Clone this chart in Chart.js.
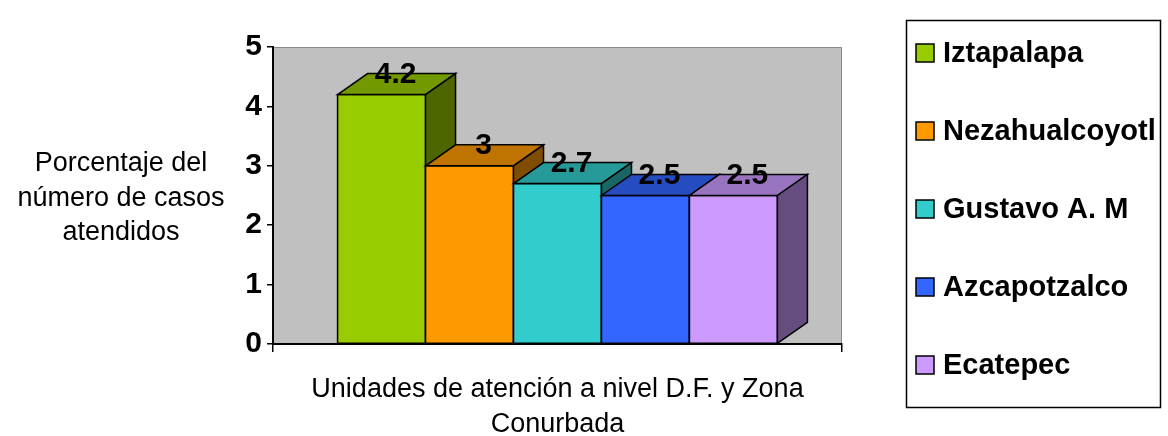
<!DOCTYPE html>
<html lang="es">
<head>
    <meta charset="UTF-8">
    <title>Porcentaje del número de casos atendidos</title>
    <script src="https://cdn.jsdelivr.net/npm/chart.js"></script>
    <style>
        html, body { margin: 0; padding: 0; background: #ffffff; }
        #wrap { width: 1168px; height: 436px; position: relative; }
    </style>
</head>
<body>
    <div id="wrap"><canvas id="chart"></canvas></div>

    <script>
        // data
        const units = ['Iztapalapa', 'Nezahualcoyotl', 'Gustavo A. M', 'Azcapotzalco', 'Ecatepec'];
        const values = [4.2, 3, 2.7, 2.5, 2.5];
        const yTicks = [0, 1, 2, 3, 4, 5];
        const yTitle = ['Porcentaje del', 'número de casos', 'atendidos'];
        const xTitle = ['Unidades de atención a nivel D.F. y Zona', 'Conurbada'];

        const colors = ['#99CC00', '#FF9900', '#33CCCC', '#3366FF', '#CC99FF'];
        const FONT = '"Liberation Sans", Arial, sans-serif';
        const DX = 30, DY = 21; // depth of the 3d bars

        function shade(hex, k) {
            const n = parseInt(hex.slice(1), 16);
            const r = Math.round(((n >> 16) & 255) * k);
            const g = Math.round(((n >> 8) & 255) * k);
            const b = Math.round((n & 255) * k);
            return 'rgb(' + r + ',' + g + ',' + b + ')';
        }

        // gray back wall
        const wallPlugin = {
            id: 'wall',
            beforeDraw(chart) {
                const { ctx, chartArea: a } = chart;
                ctx.save();
                ctx.fillStyle = '#C0C0C0';
                ctx.fillRect(a.left, a.top, a.right - a.left, a.bottom - a.top);
                ctx.strokeStyle = '#8a8a8a';
                ctx.lineWidth = 1;
                ctx.beginPath();
                ctx.moveTo(a.left, a.top + 0.5);
                ctx.lineTo(a.right - 0.5, a.top + 0.5);
                ctx.lineTo(a.right - 0.5, a.bottom);
                ctx.stroke();
                ctx.restore();
            }
        };

        // front, top and side faces, drawn bar by bar so each one covers the previous side
        const boxPlugin = {
            id: 'box3d',
            afterDatasetsDraw(chart) {
                const ctx = chart.ctx;
                ctx.save();
                ctx.lineWidth = 1.5;
                ctx.strokeStyle = '#000000';
                ctx.lineJoin = 'miter';
                const boxes = [];
                chart.data.datasets.forEach((ds, i) => {
                    const bar = chart.getDatasetMeta(i).data[0];
                    const l = bar.x - bar.width / 2, r = bar.x + bar.width / 2;
                    const t = bar.y, b = bar.base;
                    const c = ds.backgroundColor;
                    boxes.push({ x: bar.x, t: t, v: ds.data[0] });

                    ctx.fillStyle = c;
                    ctx.fillRect(l, t, r - l, b - t);
                    ctx.strokeRect(l, t, r - l, b - t);

                    ctx.beginPath();
                    ctx.moveTo(l, t);
                    ctx.lineTo(l + DX, t - DY);
                    ctx.lineTo(r + DX, t - DY);
                    ctx.lineTo(r, t);
                    ctx.closePath();
                    ctx.fillStyle = shade(c, 0.75);
                    ctx.fill();
                    ctx.stroke();

                    ctx.beginPath();
                    ctx.moveTo(r, t);
                    ctx.lineTo(r + DX, t - DY);
                    ctx.lineTo(r + DX, b - DY);
                    ctx.lineTo(r, b);
                    ctx.closePath();
                    ctx.fillStyle = shade(c, 0.5);
                    ctx.fill();
                    ctx.stroke();
                });
                ctx.fillStyle = '#000000';
                ctx.font = 'bold 30px ' + FONT;
                ctx.textAlign = 'center';
                ctx.textBaseline = 'middle';
                boxes.forEach(bx => {
                    ctx.fillText(String(bx.v), bx.x + DX / 2 - 1, bx.t - DY + 1);
                });
                ctx.restore();
            }
        };

        // axis titles and the boxed legend
        const textPlugin = {
            id: 'texts',
            afterDraw(chart) {
                const ctx = chart.ctx;
                const a = chart.chartArea;
                ctx.save();
                ctx.fillStyle = '#000000';
                ctx.textAlign = 'center';
                ctx.textBaseline = 'alphabetic';
                ctx.font = '27px ' + FONT;
                yTitle.forEach((s, i) => ctx.fillText(s, 121, 171 + i * 34.5));
                const cx = (a.left + a.right) / 2;
                xTitle.forEach((s, i) => ctx.fillText(s, cx, 397 + i * 35));

                ctx.lineWidth = 1.5;
                ctx.strokeStyle = '#000000';
                ctx.strokeRect(906.5, 20.5, 254, 387);
                ctx.textAlign = 'left';
                ctx.textBaseline = 'middle';
                ctx.font = 'bold 29px ' + FONT;
                units.forEach((u, i) => {
                    const y = 53 + i * 78;
                    ctx.fillStyle = colors[i];
                    ctx.fillRect(916, y - 9, 18, 18);
                    ctx.lineWidth = 1.5;
                    ctx.strokeRect(916, y - 9, 18, 18);
                    ctx.fillStyle = '#000000';
                    ctx.fillText(u, 943, y + 1);
                });
                ctx.restore();
            }
        };

        const datasets = units.map((u, i) => ({
            label: u,
            data: [values[i]],
            backgroundColor: colors[i],
            borderColor: '#000000',
            borderWidth: 1
        }));

        new Chart(document.getElementById('chart'), {
            type: 'bar',
            data: { labels: [''], datasets: datasets },
            options: {
                responsive: true,
                maintainAspectRatio: false,
                animation: false,
                events: [],
                categoryPercentage: 0.773,
                barPercentage: 1.0,
                layout: { padding: { top: 47, right: 326, bottom: 0, left: 0 } },
                plugins: {
                    legend: { display: false },
                    tooltip: { enabled: false }
                },
                scales: {
                    x: {
                        grid: {
                            offset: true,
                            drawOnChartArea: false,
                            drawTicks: true,
                            tickLength: 8,
                            color: '#000000',
                            lineWidth: 1.5
                        },
                        border: { color: '#000000', width: 2 },
                        ticks: { display: false },
                        afterFit(scale) { scale.height = 92; }
                    },
                    y: {
                        min: yTicks[0],
                        max: yTicks[yTicks.length - 1],
                        afterBuildTicks(scale) { scale.ticks = yTicks.map(v => ({ value: v })); },
                        grid: {
                            drawOnChartArea: false,
                            drawTicks: true,
                            tickLength: 6,
                            color: '#000000',
                            lineWidth: 1.5
                        },
                        border: { color: '#000000', width: 2 },
                        ticks: {
                            color: '#000000',
                            padding: 5,
                            font: { family: FONT, size: 30, weight: 'bold' }
                        },
                        afterFit(scale) { scale.width = 273; }
                    }
                }
            },
            plugins: [wallPlugin, boxPlugin, textPlugin]
        });
    </script>
</body>
</html>
